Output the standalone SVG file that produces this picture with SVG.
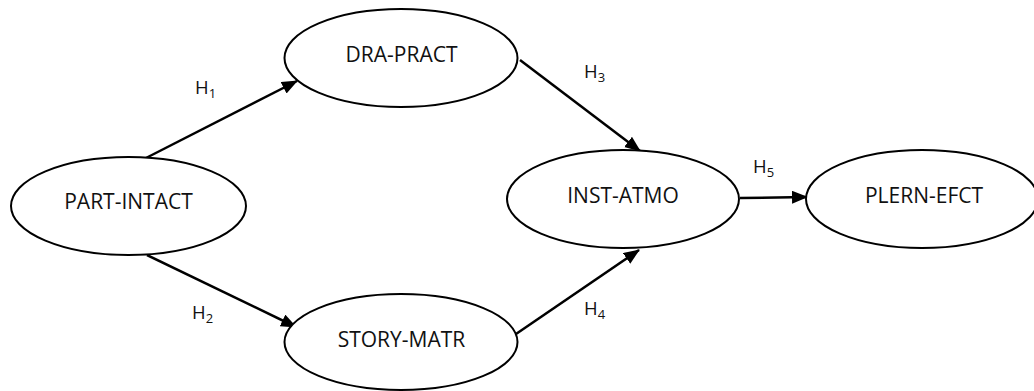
<svg xmlns="http://www.w3.org/2000/svg" width="1034" height="391" viewBox="0 0 1034 391">
  <style>
    .node ellipse { fill: #ffffff; stroke: #000000; stroke-width: 2; }
    .node text { font-family: "Open Sans", "Liberation Sans", sans-serif; font-size: 21px; fill: #111111; text-anchor: middle; }
    .edge { stroke: #000000; stroke-width: 2.5; fill: none; marker-end: url(#arrow); }
    .lbl { font-family: "Open Sans", "Liberation Sans", sans-serif; font-size: 18.5px; fill: #111111; }
    .sub { font-size: 13px; }
  </style>
  <defs>
    <marker id="arrow" markerUnits="userSpaceOnUse" markerWidth="18" markerHeight="14" refX="15" refY="6.5" orient="auto">
      <path d="M0,0 L16,6.5 L0,13 Z" fill="#000000"/>
    </marker>
  </defs>

  <rect width="1034" height="391" fill="#ffffff"/>

  <!-- connectors -->
  <g id="connectors">
    <line class="edge" x1="146" y1="158" x2="297" y2="81"/>
    <line class="edge" x1="147" y1="255" x2="296" y2="327"/>
    <line class="edge" x1="520" y1="60" x2="640" y2="151"/>
    <line class="edge" x1="516" y1="334" x2="639" y2="250"/>
    <line class="edge" x1="740" y1="198" x2="807" y2="197"/>
  </g>

  <!-- path labels -->
  <g id="labels">
    <text class="lbl" x="195" y="94">H<tspan class="sub" dy="4">1</tspan></text>
    <text class="lbl" x="192" y="319">H<tspan class="sub" dy="4">2</tspan></text>
    <text class="lbl" x="584" y="78">H<tspan class="sub" dy="4">3</tspan></text>
    <text class="lbl" x="584" y="315">H<tspan class="sub" dy="4">4</tspan></text>
    <text class="lbl" x="753" y="173">H<tspan class="sub" dy="4">5</tspan></text>
  </g>

  <!-- nodes -->
  <g id="part-intact" class="node">
    <ellipse cx="128.5" cy="206" rx="117.5" ry="49"/>
    <text x="128.5" y="209">PART-INTACT</text>
  </g>
  <g id="dra-pract" class="node">
    <ellipse cx="401" cy="58" rx="116.5" ry="49"/>
    <text x="401.5" y="62">DRA-PRACT</text>
  </g>
  <g id="story-matr" class="node">
    <ellipse cx="401" cy="342" rx="116.5" ry="48"/>
    <text x="401.5" y="347">STORY-MATR</text>
  </g>
  <g id="inst-atmo" class="node">
    <ellipse cx="623" cy="199" rx="116" ry="49"/>
    <text x="623" y="203">INST-ATMO</text>
  </g>
  <g id="plern-efct" class="node">
    <ellipse cx="922" cy="199" rx="116" ry="49"/>
    <text x="924" y="203">PLERN-EFCT</text>
  </g>
</svg>
